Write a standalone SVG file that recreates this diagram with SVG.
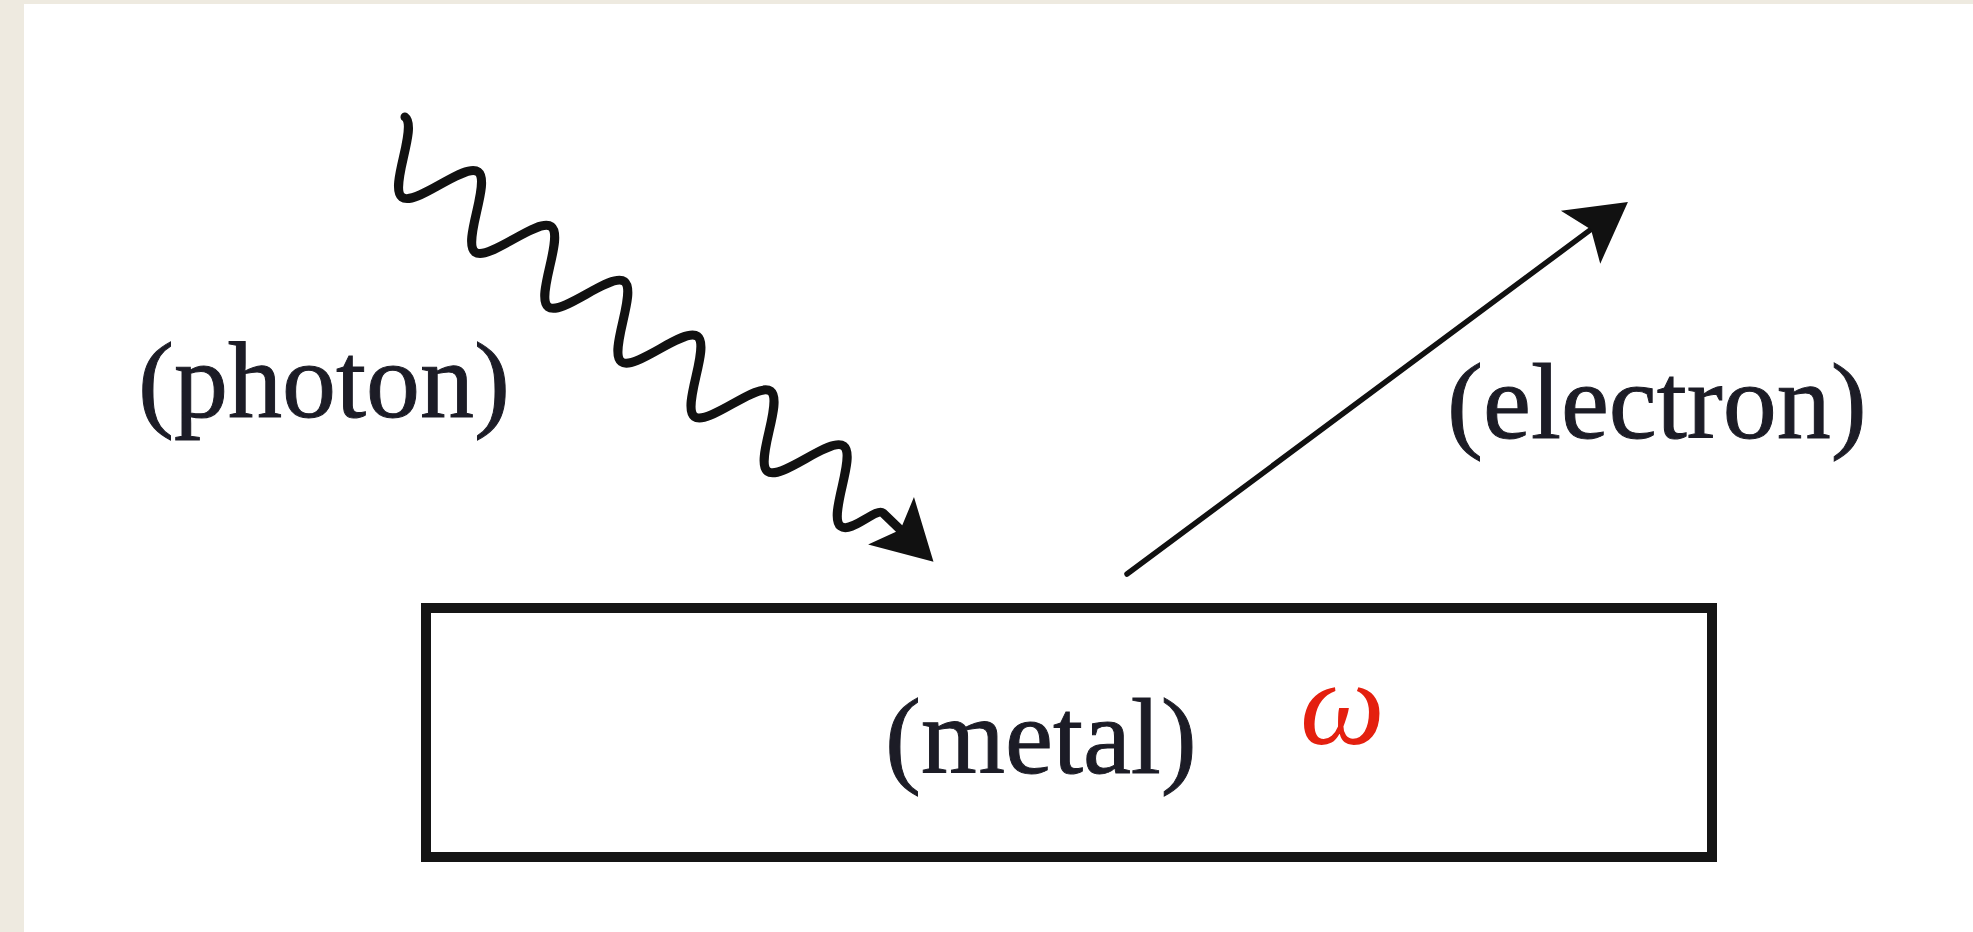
<svg xmlns="http://www.w3.org/2000/svg" width="1973" height="932" viewBox="0 0 1973 932">
  <defs>
    <style>
      .label { font-family: "Liberation Serif", "Times New Roman", serif; font-size: 108px; fill: #1c1c26; stroke: #1c1c26; stroke-width: 1; }
      .omega { font-family: "Liberation Serif", "Times New Roman", serif; font-style: italic; font-size: 120px; fill: #e4200f; }
      .wave { fill: none; stroke: #111; stroke-width: 9; stroke-linecap: round; stroke-linejoin: round; }
      .ray { fill: none; stroke: #111; stroke-width: 5.5; stroke-linecap: round; }
      .box { fill: #ffffff; stroke: #151515; stroke-width: 10; }
    </style>
    <marker id="head" markerUnits="userSpaceOnUse" viewBox="-16 -36 66 72" markerWidth="66" markerHeight="72" refX="0" refY="0" orient="auto" overflow="visible">
      <path d="M46,0 L-13,-33 L0,0 L-13,33 Z" fill="#111"/>
    </marker>
  </defs>

  <rect x="0" y="0" width="1973" height="932" fill="#eeeae0"/>
  <rect x="24" y="4" width="1949" height="928" fill="#ffffff"/>

  <g id="metal">
    <rect class="box" x="426" y="608" width="1286" height="249"/>
    <text class="label" x="885" y="773">(metal)</text>
    <text class="omega" x="1300" y="744">ω</text>
  </g>

  <g id="photon">
    <text class="label" x="138" y="417">(photon)</text>
  </g>

  <g id="electron">
    <text class="label" x="1447" y="438">(electron)</text>
  </g>

  <g id="connectors">
    <g transform="translate(385.2,143.4) rotate(36.87)">
      <path class="wave" marker-end="url(#head)" d="M0,-33 C16.65,-33 29.05,33 45.7,33 S74.75,-33 91.4,-33 S120.45,33 137.1,33 S166.15,-33 182.8,-33 S211.85,33 228.5,33 S257.55,-33 274.2,-33 S303.25,33 319.9,33 S348.95,-33 365.6,-33 S394.65,33 411.3,33 S440.35,-33 457,-33 S486.05,33 502.7,33 S531.75,-33 548.4,-33 S577.45,33 594.1,33 C607,33 611,-3 620,-3 L644,0"/>
    </g>
    <path class="ray" marker-end="url(#head)" d="M1127,574 L1591,229.4"/>
  </g>
</svg>
